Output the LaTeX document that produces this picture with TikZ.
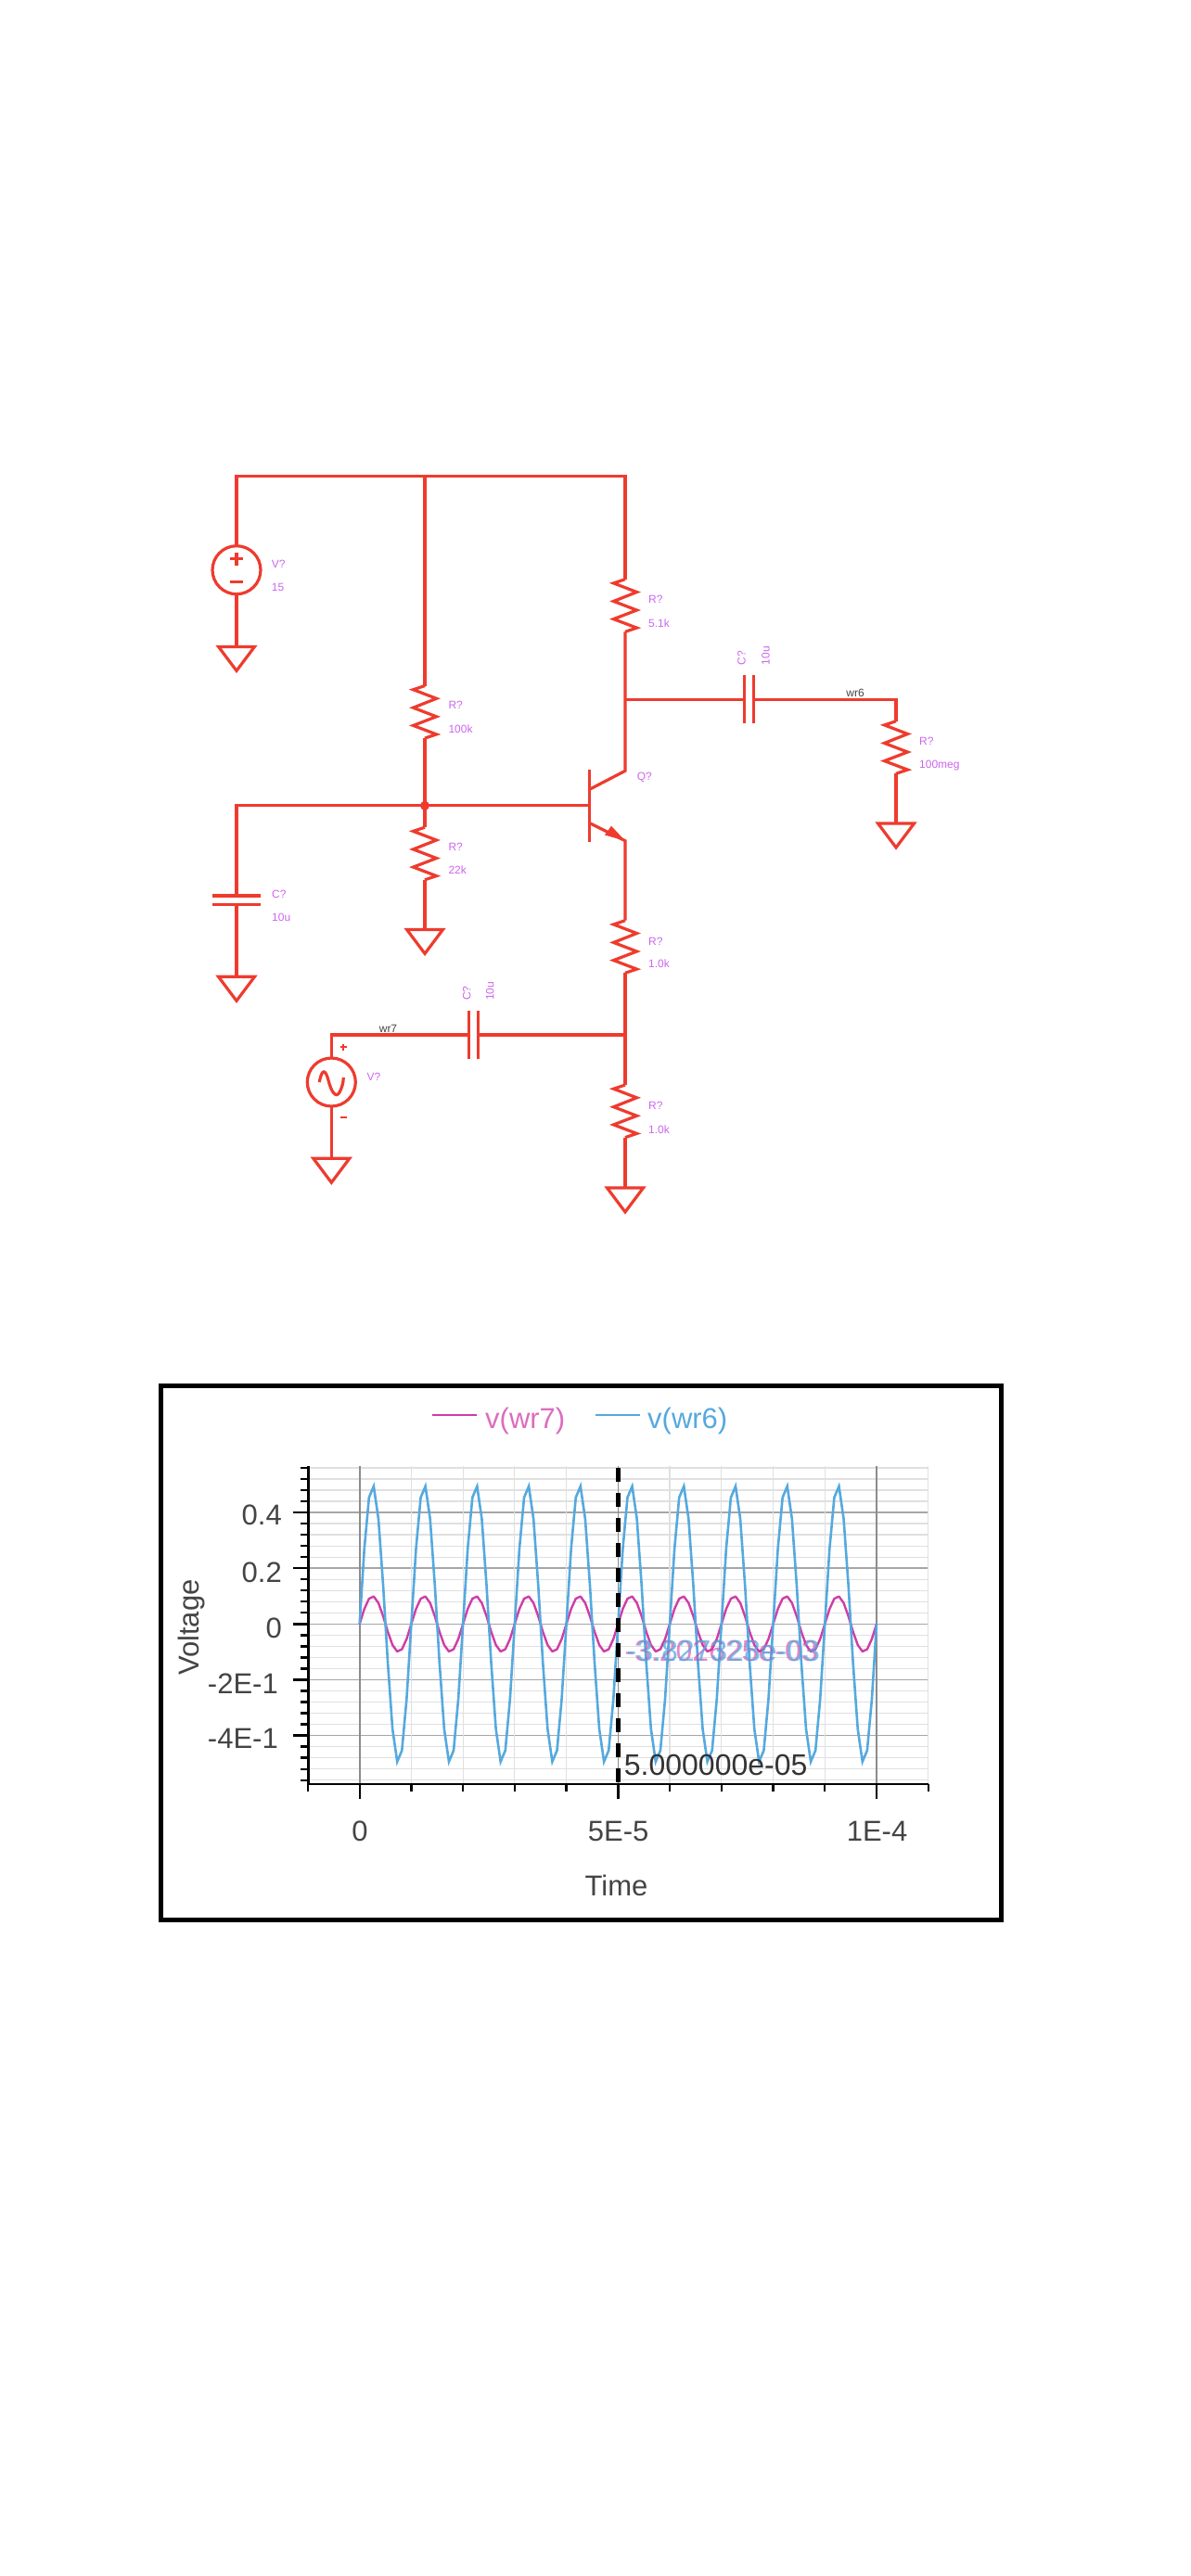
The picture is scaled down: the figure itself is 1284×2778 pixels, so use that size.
\documentclass[tikz,border=0pt]{standalone}
\usepackage{fontspec}
\setmainfont{Liberation Sans}
\definecolor{wire}{HTML}{EE3B2E}
\definecolor{lab}{HTML}{CC66EE}
\definecolor{pinkc}{HTML}{CF3DA8}
\definecolor{bluec}{HTML}{55A9DF}
\definecolor{inkc}{HTML}{444444}
\tikzset{
  w/.style={draw=wire,line width=3.2pt,line join=miter},
  lbl/.style={text=lab,anchor=base west,inner sep=0pt,font=\fontsize{12}{14}\selectfont},
  lblrot/.style={text=lab,anchor=base west,inner sep=0pt,rotate=90,font=\fontsize{12}{14}\selectfont},
  wname/.style={text=inkc,anchor=base,inner sep=0pt,font=\fontsize{12}{14}\selectfont},
  src/.style={circle,w,minimum size=52pt,inner sep=0pt,outer sep=0pt},
  big/.style={text=inkc,inner sep=0pt,font=\fontsize{31}{36}\selectfont},
  bigger/.style={inner sep=0pt,anchor=base west,font=\fontsize{32}{36}\selectfont},
  resv/.pic={
    \coordinate (-t) at (0,0);
    \coordinate (-b) at (0,56.6);
    \draw[w] (0,0) -- (-12.5,4.2) -- (12.5,13.8) -- (-12.5,23.7) -- (12.5,33.3) -- (-12.5,42.9) -- (12.5,52.4) -- (0,56.6);
  },
  gnd/.pic={
    \coordinate (-t) at (0,0);
    \draw[w] (-19.5,0) -- (19.5,0) -- (0,26) -- cycle;
  },
  capv/.pic={
    \coordinate (-t) at (0,-4.8);
    \coordinate (-b) at (0,4.8);
    \draw[w] (-26,-4.8) -- (26,-4.8) (-26,4.8) -- (26,4.8);
  },
  caph/.pic={
    \coordinate (-l) at (-4.9,0);
    \coordinate (-r) at (4.9,0);
    \draw[w] (-4.9,-26) -- (-4.9,26) (4.9,-26) -- (4.9,26);
  }
}
\begin{document}
\begin{tikzpicture}[x=1pt,y=-1pt]
\useasboundingbox (0,0) rectangle (1284,2778);
\fill[white] (0,0) rectangle (1284,2778);
% ---------- circuit ----------
\coordinate (tl) at (255,513.7);
\coordinate (tm) at (458,513.7);
\coordinate (tr) at (674,513.7);
\node[src] (v1) at (255,614.7) {};
\draw[w] (248,602.5) -- (262,602.5) (255,595.5) -- (255,609.5) (248,627.7) -- (262,627.7);
\pic (g1) at (255,697.4) {gnd};
\pic (r1) at (458,739.5) {resv};
\coordinate (bj) at (458,868.8);
\pic (r2) at (458,892.2) {resv};
\pic (g2) at (458,1002.4) {gnd};
\coordinate (bl) at (255,868.8);
\pic (c1) at (255,970.8) {capv};
\pic (g3) at (255,1053.3) {gnd};
\coordinate (bb) at (635.7,868.8);
\coordinate (qc0) at (635.7,851.2);
\coordinate (qc1) at (674,831.3);
\coordinate (qe0) at (635.7,887.6);
\coordinate (qe1) at (674,906.7);
\pic (r3) at (674,624.7) {resv};
\coordinate (out) at (674,754.4);
\pic (c2) at (807.2,754.4) {caph};
\coordinate (oe) at (966,754.4);
\pic (r4) at (966,777.7) {resv};
\pic (g4) at (966,888) {gnd};
\pic (r5) at (674,992.7) {resv};
\coordinate (inn) at (674,1116);
\pic (r6) at (674,1170) {resv};
\pic (g5) at (674,1281) {gnd};
\pic (c3) at (510.6,1116) {caph};
\coordinate (il) at (357.3,1116);
\node[src] (v2) at (357.3,1167) {};
\pic (g6) at (357.3,1249.3) {gnd};
% wires
\draw[w] (v1.north) -- (tl) -- (tr) -- (r3-t);
\draw[w] (tm) -- (r1-t);
\draw[w] (v1.south) -- (g1-t);
\draw[w] (r1-b) -- (bj) -- (r2-t);
\draw[w] (r2-b) -- (g2-t);
\draw[w] (c1-t) -- (bl) -- (bb);
\draw[w] (c1-b) -- (g3-t);
\fill[wire] (bj) circle (5pt);
\draw[w] (635.7,830.2) -- (635.7,907.9);
\draw[w] (qc0) -- (qc1) -- (r3-b);
\draw[w] (qe0) -- (qe1) -- (r5-t);
\fill[wire] (674,906.7) -- (659,890.7) -- (652,900.5) -- cycle;
\draw[w] (out) -- (c2-l);
\draw[w] (c2-r) -- (oe) -- (r4-t);
\draw[w] (r4-b) -- (g4-t);
\draw[w] (r5-b) -- (r6-t);
\draw[w] (r6-b) -- (g5-t);
\draw[w] (inn) -- (c3-r);
\draw[w] (c3-l) -- (il) -- (v2.north);
\draw[w] (v2.south) -- (g6-t);
\draw[wire,line width=3.2pt] (344.3,1167) .. controls (347,1152) and (351,1153) .. (354,1165) .. controls (357,1177) and (362,1185) .. (366,1178) .. controls (369,1172) and (370,1168) .. (370.3,1162);
\draw[wire,line width=1.8pt] (366.5,1129.3) -- (373.5,1129.3) (370,1125.8) -- (370,1132.8) (366.5,1205.3) -- (373.5,1205.3);
% labels
\node[lbl] (l1) at (292.7,612.5) {V?};
\node[lbl] (l2) at (292.7,637.8) {15};
\node[lbl] (l3) at (483.3,764.8) {R?};
\node[lbl] (l4) at (483.3,790) {100k};
\node[lbl] (l5) at (483.3,917) {R?};
\node[lbl] (l6) at (483.3,942.8) {22k};
\node[lbl] (l7) at (293,968) {C?};
\node[lbl] (l8) at (293,993.3) {10u};
\node[lbl] (l9) at (699,650.8) {R?};
\node[lbl] (l10) at (699,676) {5.1k};
\node[lbl] (l11) at (686.7,841.3) {Q?};
\node[lbl] (l12) at (991,803) {R?};
\node[lbl] (l13) at (991,828.3) {100meg};
\node[lbl] (l14) at (699,1019) {R?};
\node[lbl] (l15) at (699,1043.6) {1.0k};
\node[lbl] (l16) at (699,1196.6) {R?};
\node[lbl] (l17) at (699,1222) {1.0k};
\node[lbl] (l18) at (395.4,1165) {V?};
\node[lblrot] (l19) at (803.5,717.3) {C?};
\node[lblrot] (l20) at (829.5,717.3) {10u};
\node[lblrot] (l21) at (507.3,1079) {C?};
\node[lblrot] (l22) at (532.3,1079) {10u};
\node[wname] (n6) at (922,751) {wr6};
\node[wname] (n7) at (418.5,1113) {wr7};
% ---------- plot ----------
\draw[black,line width=5pt] (173,1494) rectangle (1079.5,2070);
\foreach \k in {-14,...,14}{
  \draw[black!12,line width=1.2pt] (332.3,{1751.3+12.03*\k}) -- (1001,{1751.3+12.03*\k});
}
\foreach \k in {-10,-5,0,5,10}{
  \draw[black!35,line width=1.6pt] (332.3,{1751.3+12.03*\k}) -- (1001,{1751.3+12.03*\k});
}
\foreach \k in {-1,...,11}{
  \draw[black!12,line width=1.2pt] ({387.7+55.73*\k},1581) -- ({387.7+55.73*\k},1924);
}
\foreach \k in {0,5,10}{
  \draw[black!45,line width=1.6pt] ({387.7+55.73*\k},1581) -- ({387.7+55.73*\k},1924);
}
\draw[black,line width=2.6pt] (332.3,1581) -- (332.3,1924) -- (1001,1924);
\foreach \k in {-14,...,14}{
  \draw[black,line width=2.4pt] (332.3,{1751.3+12.03*\k}) -- (324.3,{1751.3+12.03*\k});
}
\foreach \k in {-10,-5,0,5,10}{
  \draw[black,line width=2.4pt] (332.3,{1751.3+12.03*\k}) -- (316.3,{1751.3+12.03*\k});
}
\foreach \k in {-1,...,11}{
  \draw[black,line width=2.4pt] ({387.7+55.73*\k},1924) -- ({387.7+55.73*\k},1932);
}
\foreach \k in {0,5,10}{
  \draw[black,line width=2.4pt] ({387.7+55.73*\k},1924) -- ({387.7+55.73*\k},1940);
}
\draw[pinkc,line width=2.4pt,line join=round] plot[domain=0:100,samples=111] ({387.7+5.573*\x},{1751.3-30*sin(36*\x)});
\draw[bluec,line width=2.6pt,line join=miter] plot[domain=0:100,samples=111] ({387.7+5.573*\x},{1751.3-150*sin(36*\x)});
\draw[black,line width=5pt,dash pattern=on 15pt off 12pt] (666.7,1583) -- (666.7,1924);
% plot texts
\node[big,anchor=base east] (y1) at (304,1644) {0.4};
\node[big,anchor=base east] (y2) at (304,1706) {0.2};
\node[big,anchor=base east] (y3) at (304,1766) {0};
\node[big,anchor=base east] (y4) at (300,1826) {-2E-1};
\node[big,anchor=base east] (y5) at (300,1885) {-4E-1};
\node[big,anchor=base] (x1) at (388,1985) {0};
\node[big,anchor=base] (x2) at (666.7,1985) {5E-5};
\node[big,anchor=base] (x3) at (945.5,1985) {1E-4};
\node[big,anchor=base] (xl) at (664.5,2044) {Time};
\node[big,anchor=base,rotate=90] (yl) at (214,1755) {Voltage};
\node[bigger,text=black!80] (cur) at (672.7,1914.5) {5.000000e-05};
\node[bigger,text=pinkc,opacity=.6] (vp) at (673.3,1791.5) {-3.202625e-03};
\node[bigger,text=bluec,opacity=.75] (vb) at (675.5,1791.5) {-3.827328e-03};
\draw[pinkc,line width=2pt] (466,1526) -- (514,1526);
\node[big,anchor=base west,text=pinkc!75!white] (lp) at (523,1540) {v(wr7)};
\draw[bluec,line width=2pt] (641.7,1526) -- (690,1526);
\node[big,anchor=base west,text=bluec] (lb) at (698,1540) {v(wr6)};
\end{tikzpicture}
\end{document}
